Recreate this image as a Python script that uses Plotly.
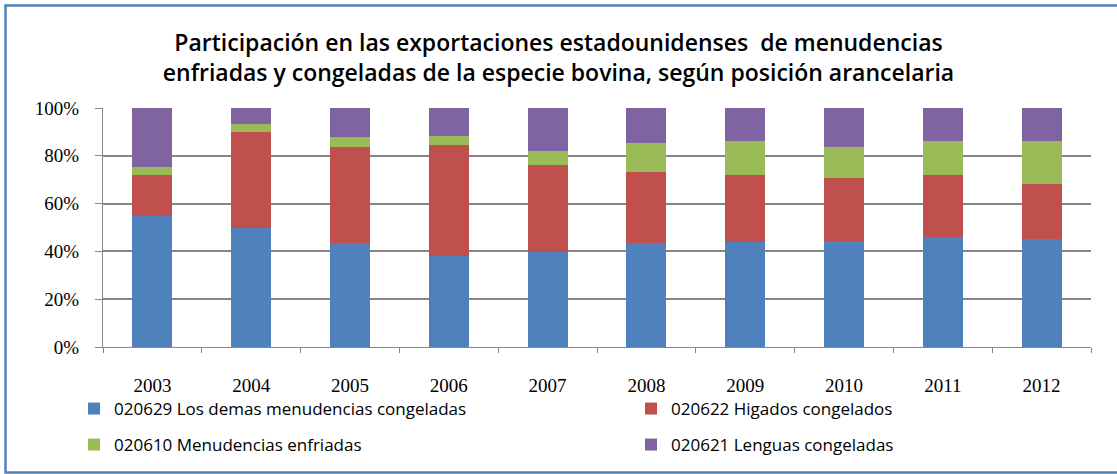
import plotly.graph_objects as go

years = ["2003", "2004", "2005", "2006", "2007", "2008", "2009", "2010", "2011", "2012"]
s_020629 = [55.0, 50.0, 43.5, 38.2, 39.7, 43.5, 44.1, 44.4, 46.0, 45.2]
s_020622 = [17.0, 40.0, 40.2, 46.3, 36.5, 29.7, 27.9, 26.3, 26.0, 23.0]
s_020610 = [3.3, 3.4, 4.2, 3.8, 5.8, 12.2, 14.2, 13.0, 14.2, 18.0]
s_020621 = [24.7, 6.6, 12.1, 11.7, 18.0, 14.6, 13.8, 16.3, 13.8, 13.8]

names = ["020629 Los demas menudencias congeladas", "020622 Higados congelados",
         "020610 Menudencias enfriadas", "020621 Lenguas congeladas"]
colors = ["#4F81BD", "#C0504D", "#9BBB59", "#8064A2"]
legends = ["legend", "legend2", "legend3", "legend4"]

fig = go.Figure()
for vals, name, col, lg in zip([s_020629, s_020622, s_020610, s_020621], names, colors, legends):
    fig.add_trace(go.Bar(x=years, y=vals, name=name, marker_color=col,
                         marker_line_width=0, legend=lg, showlegend=True))

L, R, T, B = 103, 26, 108, 127
W, H = 1117, 474
pw, ph = W - L - R, H - T - B

def px_x(p):
    return (p - L) / pw

def px_y(p):
    return (H - B - p) / ph

leg_font = dict(family="Open Sans, Lato, sans-serif", size=17, color="#000000")
legend_pos = {"legend": (74, 409), "legend2": (631, 409),
              "legend3": (74, 445), "legend4": (631, 445)}
leg_layout = {}
for key, (lx, ly) in legend_pos.items():
    leg_layout[key] = dict(orientation="h", x=px_x(lx), xanchor="left", y=px_y(ly),
                           yanchor="middle", font=leg_font, bgcolor="rgba(0,0,0,0)",
                           itemwidth=30, visible=True)

fig.update_layout(
    width=W, height=H,
    showlegend=True,
    margin=dict(l=L, r=R, t=T, b=B, autoexpand=False),
    paper_bgcolor="white", plot_bgcolor="white",
    barmode="stack", barnorm="percent", bargap=0.595,
    title=dict(text="Participación en las exportaciones estadounidenses  de menudencias<br>enfriadas y congeladas de la especie bovina, según posición arancelaria",
               x=0.5, xanchor="center", y=1 - 51 / H, yanchor="middle",
               font=dict(family="Open Sans, Lato, sans-serif", size=23, color="#000000", weight=600)),
    xaxis=dict(showline=True, linecolor="#868686", linewidth=1, ticks="outside",
               tickson="boundaries", ticklen=5, tickcolor="#868686", showgrid=False,
               ticklabelstandoff=21,
               tickfont=dict(family="Liberation Serif, serif", size=19, color="#000000")),
    yaxis=dict(range=[0, 100], dtick=20, ticksuffix="%", showline=True, linecolor="#868686",
               linewidth=1, ticks="outside", ticklen=7, tickcolor="#868686",
               showgrid=True, gridcolor="#868686", gridwidth=1.5, zeroline=False,
               ticklabelstandoff=12,
               tickfont=dict(family="Liberation Serif, serif", size=19, color="#000000")),
    shapes=[dict(type="rect", xref="paper", yref="paper",
                 x0=px_x(5.5), x1=px_x(1122), y0=px_y(472.5), y1=px_y(5.5),
                 line=dict(color="#4F81BD", width=2.5), fillcolor="rgba(0,0,0,0)", layer="above")],
    **leg_layout,
)

fig.write_html("out.html", config={"displayModeBar": False},
               post_script="document.body.style.margin='0';")
